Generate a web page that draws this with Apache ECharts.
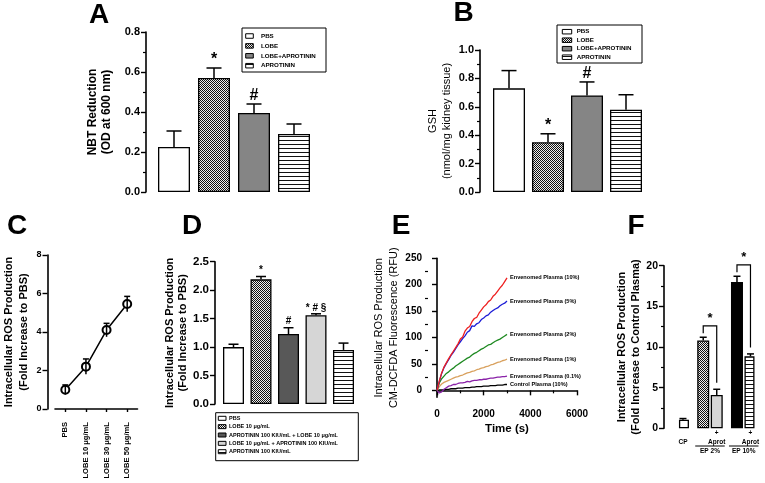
<!DOCTYPE html>
<html><head><meta charset="utf-8">
<script src="https://cdn.jsdelivr.net/npm/echarts@6/dist/echarts.min.js"></script>
<style>html,body{margin:0;padding:0;background:#fff}#c{width:765px;height:483px}</style>
</head><body><div id="c"></div>
<script>
// ---------------- DATA ----------------
const aCategories = ['PBS', 'LOBE', 'LOBE+APROTININ', 'APROTININ'];
const aValues = [0.225, 0.57, 0.395, 0.29];
const aErrors = [0.08, 0.05, 0.045, 0.05];
const aMarks = ['', '*', '#', ''];

const bCategories = ['PBS', 'LOBE', 'LOBE+APROTININ', 'APROTININ'];
const bValues = [0.73, 0.35, 0.68, 0.58];
const bErrors = [0.125, 0.06, 0.095, 0.105];
const bMarks = ['', '*', '#', ''];

const cCategories = ['PBS', 'LOBE 10 \u03bcg/mL', 'LOBE 30 \u03bcg/mL', 'LOBE 50 \u03bcg/mL'];
const cValues = [1.0, 2.2, 4.1, 5.45];
const cErrors = [0.25, 0.4, 0.35, 0.4];

const dCategories = ['PBS', 'LOBE 10 \u03bcg/mL', 'APROTININ 100 KIU/mL + LOBE 10 \u03bcg/mL',
  'LOBE 10 \u03bcg/mL + APROTININ 100 KIU/mL', 'APROTININ 100 KIU/mL'];
const dValues = [1.0, 2.19, 1.23, 1.56, 0.95];
const dErrors = [0.05, 0.05, 0.11, 0.025, 0.12];
const dMarks = ['', '*', '#', '* # \u00a7', ''];

const eTime = [0,100,200,300,400,500,600,700,800,900,1000,1100,1200,1300,1400,1500,
  1600,1700,1800,1900,2000,2100,2200,2300,2400,2500,2600,2700,2800,2900,3000];
const eNames = ['Control Plasma (10%)', 'Envenomed Plasma (0.1%)', 'Envenomed Plasma (1%)',
  'Envenomed Plasma (2%)', 'Envenomed Plasma (5%)', 'Envenomed Plasma (10%)'];
const eControl10 = [0,1,1,1,2,2,3,3,3,4,4,4,5,5,5,6,6,7,7,7,8,8,8,9,9,9,10,10,10,11,11];
const eEnv01 = [0,-5,-3,2,5,8,9,11,11,13,14,14,15,17,16,18,19,19,20,20,21,21,22,23,23,24,25,25,26,26,27];
const eEnv1 = [0,7,12,15,17,19,21,23,25,26,28,29,31,33,34,36,37,39,40,42,43,45,46,48,49,51,53,54,56,57,59];
const eEnv2 = [0,14,22,27,32,35,39,42,46,49,52,55,58,61,63,67,70,72,75,78,80,83,86,87,90,93,95,97,100,103,106];
const eEnv5 = [0,17,32,43,51,58,66,72,79,86,92,98,103,110,113,122,121,126,128,134,137,141,143,148,151,154,156,160,163,165,169];
const eEnv10 = [0,18,33,44,52,60,67,74,81,88,97,101,112,118,121,130,136,138,146,152,158,162,168,171,178,182,188,194,199,206,213];
const eSeriesValues = [eControl10, eEnv01, eEnv1, eEnv2, eEnv5, eEnv10];

const fCategories = ['CP', 'EP 2%', 'EP 2% + Aprot', 'EP 10%', 'EP 10% + Aprot'];
const fValues = [1.05, 10.8, 4.1, 18.0, 8.85];
const fErrors = [0.15, 0.4, 0.7, 0.7, 0.3];
const fBarLabels = ['\nCP', '', '+\nAprot', '', '+\nAprot'];
const fGroupLabels = ['EP 2%', 'EP 10%'];
const fGroups = [[1, 2], [3, 4]];
const fComparisons = [[1, 2], [3, 4]];

const eYTicks = [0, 50, 100, 150, 200, 250];
const eYMinorTicks = [25, 75, 125, 175, 225];

// ---------------- STYLE ----------------
const FF = '"Liberation Sans", Arial, Helvetica, sans-serif';
function pat(w, h, draw) {
  const c = document.createElement('canvas'); c.width = w; c.height = h;
  draw(c.getContext('2d')); return { image: c, repeat: 'repeat' };
}
const checker = pat(2, 2, g => { g.fillStyle = '#eee'; g.fillRect(0,0,2,2); g.fillStyle = '#111'; g.fillRect(0,0,1,1); g.fillRect(1,1,1,1); });
const stripes = pat(4, 4, g => { g.fillStyle = '#fff'; g.fillRect(0,0,4,4); g.fillStyle = '#111'; g.fillRect(0,0,4,1); });
const abFills = ['#ffffff', checker, '#858585', stripes];
const dFills = ['#ffffff', checker, '#585858', '#d6d6d6', stripes];
const fFills = ['#ffffff', checker, '#d6d6d6', '#000000', stripes];
const eColors = ['#000000', '#8a22a8', '#d9a15e', '#1f8a22', '#1c1cd6', '#ee2020'];
const fSlot = [0, 3, 5, 8, 10];
const fSlotCount = 11;

const axisLineStyle = { color: '#000', width: 1.6 };

// ---------------- HELPERS ----------------
function barData(values, fills) {
  return values.map((v, i) => ({ value: v, itemStyle: { color: fills[i] } }));
}
function errSeries(xi, yi, values, errors, marks, cap, markFont, markGap, slots) {
  return {
    type: 'custom', xAxisIndex: xi, yAxisIndex: yi, z: 5, clip: false,
    data: values.map((v, i) => [slots ? slots[i] : i, v + errors[i]]),
    encode: { x: 0, y: 1 },
    renderItem: function (params, api) {
      const i = params.dataIndex;
      const x = slots ? slots[i] : i;
      const p0 = api.coord([x, values[i]]);
      const p1 = api.coord([x, values[i] + errors[i]]);
      const st = { stroke: '#000', lineWidth: 1.5 };
      const ch = [
        { type: 'line', shape: { x1: p0[0], y1: p0[1], x2: p1[0], y2: p1[1] }, style: st },
        { type: 'line', shape: { x1: p1[0] - cap / 2, y1: p1[1], x2: p1[0] + cap / 2, y2: p1[1] }, style: st }
      ];
      if (marks && marks[i]) {
        ch.push({ type: 'text', x: p1[0], y: p1[1] - markGap,
          style: { text: marks[i], font: markFont, fill: '#000', align: 'center', verticalAlign: 'bottom' } });
      }
      return { type: 'group', children: ch };
    }
  };
}
function legendGraphic(box, rowY0, step, swX, swW, swH, txtX, fontSize, labels, fills) {
  const ch = [{ type: 'rect', shape: { x: box[0], y: box[1], width: box[2], height: box[3] },
    style: { fill: '#fff', stroke: '#000', lineWidth: 1 } }];
  labels.forEach((lab, i) => {
    const y = rowY0 + i * step;
    ch.push({ type: 'rect', shape: { x: swX, y: y - swH / 2, width: swW, height: swH },
      style: { fill: fills[i], stroke: '#000', lineWidth: 1 } });
    ch.push({ type: 'text', x: txtX, y: y,
      style: { text: lab, font: 'bold ' + fontSize + 'px ' + FF, fill: '#000', align: 'left', verticalAlign: 'middle' } });
  });
  return { type: 'group', children: ch };
}
function letter(t, x, y) {
  return { type: 'text', x: x, y: y, style: { text: t, font: 'bold 28px ' + FF, fill: '#000', align: 'center', verticalAlign: 'middle' } };
}
function hiddenCat(grid, data) {
  return { type: 'category', gridIndex: grid, data: data, axisLine: { show: false }, axisTick: { show: false }, axisLabel: { show: false } };
}
function valY(grid, max, interval, offset, fontSize, name, nameGap, nameSize, nameWeight, lineHeight, minor, labelFmt) {
  return {
    type: 'value', gridIndex: grid, min: 0, max: max, interval: interval, offset: offset, position: 'left',
    axisLine: { show: true, lineStyle: axisLineStyle },
    axisTick: { show: true, length: 5, lineStyle: { color: '#000', width: 1.4 } },
    minorTick: { show: !!minor, splitNumber: 2, length: 3, lineStyle: { color: '#000', width: 1.2 } },
    splitLine: { show: false }, minorSplitLine: { show: false },
    axisLabel: { color: '#000', fontSize: fontSize, fontWeight: 'bold', fontFamily: FF, margin: 6, formatter: labelFmt },
    name: name, nameLocation: 'middle', nameRotate: 90, nameGap: nameGap,
    nameTextStyle: { color: '#000', fontSize: nameSize, fontWeight: nameWeight, fontFamily: FF, lineHeight: lineHeight }
  };
}

// ---------------- OPTION ----------------
const fSlotData = new Array(fSlotCount).fill('');
const fBarSlotData = new Array(fSlotCount).fill('-');
fSlot.forEach((s, i) => { fBarSlotData[s] = { value: fValues[i], itemStyle: { color: fFills[i] } }; });
const fLabelBySlot = {};
fSlot.forEach((s, i) => { fLabelBySlot[s] = fBarLabels[i]; });

const option = {
  animation: false,
  backgroundColor: '#fff',
  grid: [
    { left: 154, top: 32, width: 160, height: 160 },
    { left: 489.5, top: 50, width: 156, height: 142 },
    { left: 53.5, top: 255, width: 84, height: 154 },
    { left: 219.75, top: 261.7, width: 137.5, height: 142.3 },
    { left: 437, top: 258.3, width: 140, height: 138.9 },
    { left: 679.6, top: 265.7, width: 74.25, height: 162.6 }
  ],
  xAxis: [
    hiddenCat(0, aCategories),
    hiddenCat(1, bCategories),
    { type: 'category', gridIndex: 2, data: cCategories, offset: 8,
      axisLine: { show: true, lineStyle: axisLineStyle },
      axisTick: { show: true, alignWithLabel: true, length: 3, lineStyle: { color: '#000', width: 1.4 } },
      axisLabel: { rotate: 90, interval: 0, fontSize: 7.6, fontWeight: 'bold', color: '#000', fontFamily: FF, margin: 5 } },
    hiddenCat(3, dCategories),
    { type: 'value', gridIndex: 4, min: 0, max: 6000, interval: 2000, offset: 6,
      axisLine: { show: true, lineStyle: axisLineStyle },
      axisTick: { show: true, length: 5, lineStyle: { color: '#000', width: 1.4 } },
      minorTick: { show: true, splitNumber: 2, length: 3, lineStyle: { color: '#000', width: 1.2 } },
      splitLine: { show: false },
      axisLabel: { color: '#000', fontSize: 10, fontWeight: 'bold', fontFamily: FF, margin: 6, formatter: v => String(v) },
      name: 'Time (s)', nameLocation: 'middle', nameGap: 20,
      nameTextStyle: { color: '#000', fontSize: 11.5, fontWeight: 'bold', fontFamily: FF } },
    { type: 'category', gridIndex: 5, data: fSlotData,
      axisLine: { show: false }, axisTick: { show: false },
      axisLabel: { show: true, interval: 0, margin: 1, color: '#000', fontSize: 6.5, fontWeight: 'bold', fontFamily: FF, lineHeight: 8.7,
        formatter: function (v, idx) { return fLabelBySlot[idx] || ''; } } }
  ],
  yAxis: [
    valY(0, 0.8, 0.2, 8, 11, 'NBT Reduction\n(OD at 600 nm)', 32, 12, 'bold', 14, true, v => v.toFixed(1)),
    valY(1, 1.0, 0.2, 9.5, 11, 'GSH\n(nmol/mg kidney tissue)', 26, 11, 'normal', 14, true, v => v.toFixed(1)),
    valY(2, 8, 2, 7.5, 9, 'Intracellular ROS Production\n(Fold Increase to PBS)', 16.5, 11, 'bold', 15, false),
    valY(3, 2.5, 0.5, 4.75, 11.5, 'Intracellular ROS Production\n(Fold Increase to PBS)', 22, 11, 'bold', 12.5, false, v => v.toFixed(1)),
    { type: 'value', gridIndex: 4, min: -13, max: 250, offset: 9, position: 'left',
      axisLine: { show: true, lineStyle: axisLineStyle },
      axisTick: { show: true, length: 5, customValues: eYTicks, lineStyle: { color: '#000', width: 1.4 } },
      axisLabel: { customValues: eYTicks, color: '#000', fontSize: 10, fontWeight: 'bold', fontFamily: FF, margin: 6 },
      splitLine: { show: false },
      name: 'Intracellular ROS Production\nCM-DCFDA Fluorescence (RFU)', nameLocation: 'middle', nameRotate: 90, nameGap: 22.5,
      nameTextStyle: { color: '#000', fontSize: 11, fontWeight: 'normal', fontFamily: FF, lineHeight: 15 } },
    { type: 'value', gridIndex: 4, min: -13, max: 250, offset: 9, position: 'left',
      axisLine: { show: false },
      axisTick: { show: true, length: 3, customValues: eYMinorTicks, lineStyle: { color: '#000', width: 1.2 } },
      axisLabel: { show: false }, splitLine: { show: false } },
    valY(5, 20, 5, 15.6, 10.5, 'Intracellular ROS Production\n(Fold Increase to Control Plasma)', 14, 11, 'bold', 13.5, true)
  ],
  graphic: [
    letter('A', 99, 15), letter('B', 463.5, 13),
    letter('C', 17, 226), letter('D', 192, 226), letter('E', 401, 226), letter('F', 636, 226),
    legendGraphic([242, 28, 84, 44], 36, 9.9, 245.7, 7.6, 4.5, 261, 6.2, aCategories, abFills),
    legendGraphic([557, 25, 85, 38], 31.7, 8.5, 562.3, 9.4, 4.5, 576.7, 6.2, bCategories, abFills),
    legendGraphic([215.7, 412.7, 142.6, 48], 418.3, 8.35, 218.3, 7.7, 4, 229, 5.5, dCategories, dFills)
  ],
  series: [
    { type: 'bar', xAxisIndex: 0, yAxisIndex: 0, barWidth: 32, data: barData(aValues, abFills),
      itemStyle: { borderColor: '#000', borderWidth: 1.3 } },
    errSeries(0, 0, aValues, aErrors, aMarks, 15, 'bold 16px ' + FF, 0),
    { type: 'bar', xAxisIndex: 1, yAxisIndex: 1, barWidth: 32, data: barData(bValues, abFills),
      itemStyle: { borderColor: '#000', borderWidth: 1.3 } },
    errSeries(1, 1, bValues, bErrors, bMarks, 15, 'bold 16px ' + FF, 0),
    { type: 'line', xAxisIndex: 2, yAxisIndex: 2, data: cValues, symbol: 'emptyCircle', symbolSize: 8,
      lineStyle: { color: '#000', width: 1.5 }, itemStyle: { color: '#000', borderColor: '#000', borderWidth: 1.3 } },
    errSeries(2, 2, cValues.map((v, i) => v - cErrors[i]), cErrors.map(e => 2 * e), null, 6, '', 0),
    { type: 'bar', xAxisIndex: 3, yAxisIndex: 3, barWidth: 21, data: barData(dValues, dFills),
      itemStyle: { borderColor: '#000', borderWidth: 1.3 } },
    errSeries(3, 3, dValues, dErrors, dMarks, 10, 'bold 10px ' + FF, 1),
  ].concat(eNames.map((n, k) => ({
    type: 'line', name: n, xAxisIndex: 4, yAxisIndex: 4, showSymbol: false, symbol: 'none',
    data: eTime.map((t, i) => [t, eSeriesValues[k][i]]),
    lineStyle: { color: eColors[k], width: 1.3 }, itemStyle: { color: eColors[k] },
    endLabel: { show: true, formatter: '{a}', distance: 3, color: '#000', fontSize: 5.6, fontWeight: 'bold', fontFamily: FF }
  }))).concat([
    { type: 'bar', xAxisIndex: 5, yAxisIndex: 6, barWidth: 12, data: fBarSlotData,
      itemStyle: { borderColor: '#000', borderWidth: 1.3 } },
    errSeries(5, 6, fValues, fErrors, null, 7, '', 0, fSlot),
    { type: 'custom', xAxisIndex: 5, yAxisIndex: 6, z: 6, clip: false,
      data: fComparisons.map(c => [fSlot[c[0]], fSlot[c[1]], fValues[c[0]] + fErrors[c[0]]]),
      encode: { x: [0, 1], y: 2 },
      renderItem: function (params, api) {
        const c = fComparisons[params.dataIndex];
        const l = c[0], r = c[1];
        const lt = fValues[l] + fErrors[l], rt = fValues[r] + fErrors[r];
        const yb = Math.max(lt, rt) + 1.4;
        const pL = api.coord([fSlot[l], yb]), pR = api.coord([fSlot[r], yb]);
        const pLe = api.coord([fSlot[l], lt + 0.5]), pRe = api.coord([fSlot[r], rt + 0.8]);
        const st = { stroke: '#000', lineWidth: 1.2, fill: null };
        return { type: 'group', children: [
          { type: 'polyline', shape: { points: [[pLe[0], pLe[1]], [pL[0], pL[1]], [pR[0], pR[1]], [pRe[0], pRe[1]]] }, style: st },
          { type: 'text', x: (pL[0] + pR[0]) / 2, y: pL[1] - 1,
            style: { text: '*', font: 'bold 13px ' + FF, fill: '#000', align: 'center', verticalAlign: 'bottom' } }
        ] };
      } },
    { type: 'custom', xAxisIndex: 5, yAxisIndex: 6, z: 6, clip: false,
      data: fGroups.map(g => [fSlot[g[0]], fSlot[g[1]], 0]),
      encode: { x: [0, 1], y: 2 },
      renderItem: function (params, api) {
        const g = fGroups[params.dataIndex];
        const pL = api.coord([fSlot[g[0]], 0]), pR = api.coord([fSlot[g[1]], 0]);
        const y = pL[1] + 17.7;
        return { type: 'group', children: [
          { type: 'line', shape: { x1: pL[0] - 8, y1: y, x2: pR[0] + 8, y2: y }, style: { stroke: '#000', lineWidth: 1 } },
          { type: 'text', x: (pL[0] + pR[0]) / 2, y: y + 5.7,
            style: { text: fGroupLabels[params.dataIndex], font: 'bold 6.5px ' + FF, fill: '#000', align: 'center', verticalAlign: 'middle' } }
        ] };
      } }
  ])
};

const chart = echarts.init(document.getElementById('c'), null, { renderer: 'canvas' });
chart.setOption(option);
</script>
</body></html>
